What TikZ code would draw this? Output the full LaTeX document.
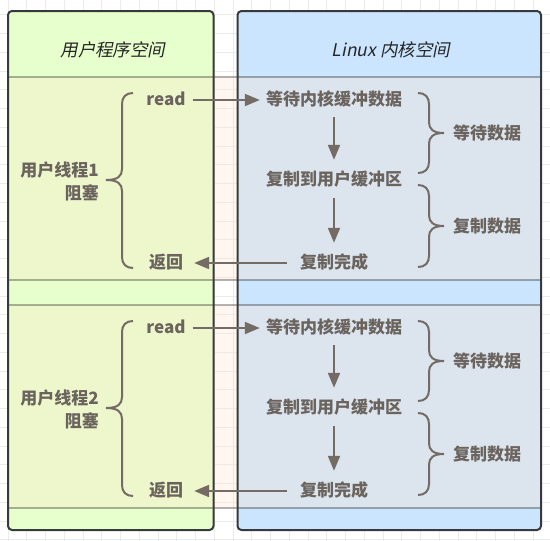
\documentclass[tikz,border=0pt]{standalone}
\usepackage{fontspec}
\setmainfont{Noto Sans CJK SC}
\newfontfamily\hdrfont[FakeSlant=0.2]{Noto Sans CJK SC}
\usetikzlibrary{arrows.meta}
\definecolor{colgreen}{HTML}{E6FFCC}
\definecolor{colblue}{HTML}{CCE5FF}
\definecolor{colborder}{HTML}{36393D}
\definecolor{bandfill}{HTML}{FFE6CC}
\definecolor{txtgray}{HTML}{6B645E}
\definecolor{linegray}{HTML}{736B64}
\definecolor{gridcol}{HTML}{EBEBEB}
\begin{document}
\begin{tikzpicture}[x=1pt,y=-1pt,
  gridline/.style={draw=gridcol,line width=0.6pt},
  colbox/.style={rounded corners=4pt,line width=2pt,draw=colborder},
  band/.style={fill=bandfill,fill opacity=0.32,draw=black,draw opacity=0.3,line width=1.6pt},
  txt/.style={font=\fontsize{17}{20}\selectfont\bfseries,text=txtgray,inner sep=0pt,text height=13pt,text depth=3pt},
  hdr/.style={font=\hdrfont\fontsize{17.5}{20}\selectfont,text=black!85,inner sep=0pt},
  lbl/.style={font=\fontsize{17}{23}\selectfont\bfseries,text=txtgray,inner sep=0pt,align=right},
  conn/.style={-{Triangle[length=15pt,width=12pt]},line width=2pt,draw=linegray},
  bracepath/.style={line width=2pt,draw=linegray}]
\useasboundingbox (0,0) rectangle (550,541);
% background grid
\begin{scope}
\clip (0,0) rectangle (550,541);
\foreach \i in {0,...,29} \draw[gridline] ({8+\i*18.75},0) -- ({8+\i*18.75},541);
\foreach \i in {-1,...,28} \draw[gridline] (0,{14.6+\i*18.75}) -- (550,{14.6+\i*18.75});
\end{scope}
% columns
\fill[colgreen,rounded corners=4pt] (8,11) rectangle (213.5,530);
\fill[colblue,rounded corners=4pt] (237.5,11) rectangle (541,530);
% bands
\foreach \dy in {0,228} {
  \draw[band] (8,77+\dy) rectangle (541,280+\dy);
}
% column borders on top
\draw[colbox] (8,11) rectangle (213.5,530);
\draw[colbox] (237.5,11) rectangle (541,530);
% headers
\node[hdr] (huser) at (113,50) {用户程序空间};
\node[hdr] (hkernel) at (391,50) {Linux 内核空间};
% two identical blocks
\foreach \dy/\n in {0/1,228/2} {
  \node[txt] (read\n) at (166,100+\dy) {read};
  \node[txt] (wait\n) at (334,100+\dy) {等待内核缓冲数据};
  \node[txt] (copy\n) at (334,180+\dy) {复制到用户缓冲区};
  \node[txt] (done\n) at (334,263+\dy) {复制完成};
  \node[txt] (ret\n) at (166,263+\dy) {返回};
  \node[lbl,anchor=east] (thr\n) at (99,181.5+\dy) {用户线程\n\\阻塞};
  \node[txt] (wd\n) at (487,134+\dy) {等待数据};
  \node[txt] (cd\n) at (487,227+\dy) {复制数据};
  \draw[conn,shorten <=7pt,shorten >=6pt] (read\n) -- (wait\n);
  \draw[conn,shorten <=9pt,shorten >=12pt] (wait\n) -- (copy\n);
  \draw[conn,shorten <=10pt,shorten >=12pt] (copy\n) -- (done\n);
  \draw[conn,shorten <=13pt,shorten >=11pt] (done\n) -- (ret\n);
  % left brace
  \draw[bracepath] (133,93+\dy) .. controls (126,93+\dy) and (122,97+\dy) .. (122,104+\dy)
    -- (122,169+\dy) .. controls (122,176+\dy) and (118,180+\dy) .. (106,180+\dy)
    .. controls (118,180+\dy) and (122,184+\dy) .. (122,191+\dy)
    -- (122,257+\dy) .. controls (122,264+\dy) and (126,268+\dy) .. (133,268+\dy);
  % right brace 1
  \draw[bracepath] (418,93+\dy) .. controls (425,93+\dy) and (429,97+\dy) .. (429,104+\dy)
    -- (429,122+\dy) .. controls (429,129+\dy) and (433,133+\dy) .. (444,133+\dy)
    .. controls (433,133+\dy) and (429,137+\dy) .. (429,144+\dy)
    -- (429,162+\dy) .. controls (429,169+\dy) and (425,173+\dy) .. (418,173+\dy);
  % right brace 2
  \draw[bracepath] (418,185+\dy) .. controls (425,185+\dy) and (429,189+\dy) .. (429,196+\dy)
    -- (429,215+\dy) .. controls (429,222+\dy) and (433,226+\dy) .. (444,226+\dy)
    .. controls (433,226+\dy) and (429,230+\dy) .. (429,237+\dy)
    -- (429,256+\dy) .. controls (429,263+\dy) and (425,267+\dy) .. (418,267+\dy);
}
\end{tikzpicture}
\end{document}
